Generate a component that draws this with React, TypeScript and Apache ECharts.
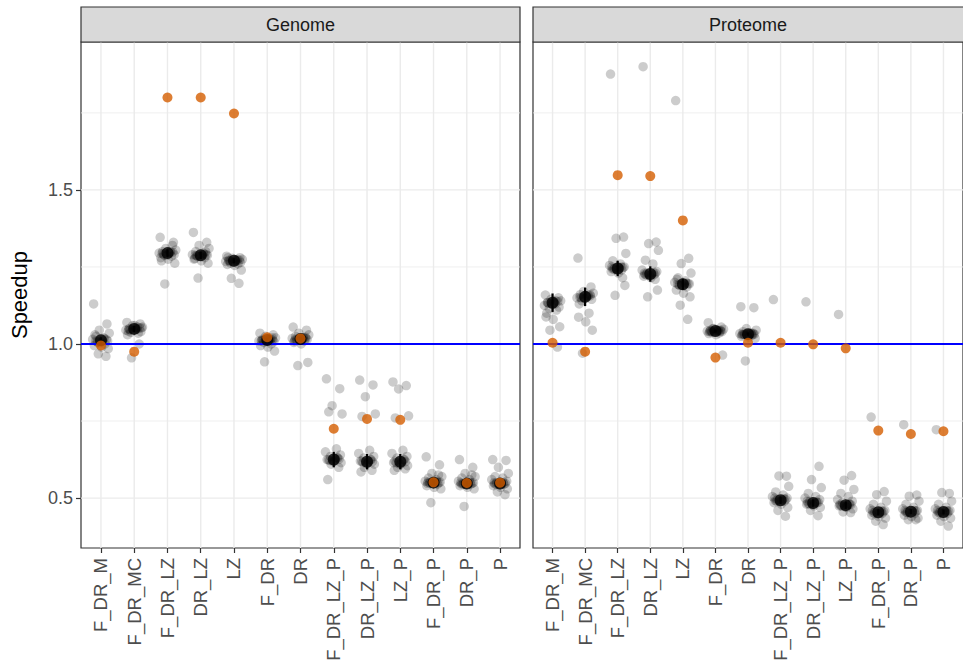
import React, { useEffect, useRef } from "react";
import * as echarts from "echarts";

const CATEGORIES = ["F_DR_M", "F_DR_MC", "F_DR_LZ", "DR_LZ", "LZ", "F_DR", "DR", "F_DR_LZ_P", "DR_LZ_P", "LZ_P", "F_DR_P", "DR_P", "P"];
const PANELS = ["Genome", "Proteome"];
const Y_TICKS = [0.5, 1.0, 1.5];
const Y_MINOR = [0.75, 1.25, 1.75];
const BASELINE = 1.0;

// hand-placed horizontal jitter offsets (category units)
const JITTER = [-0.22, 0.18, -0.05, 0.25, -0.15, 0.08, -0.25, 0.2, -0.1, 0.12, -0.2, 0.02, 0.22, -0.08, 0.15, -0.18, 0.05, -0.12, 0.1, -0.02, 0.16, -0.16];

// Genome
const GENOME_RUNS = [
  [1.13, 1.065, 1.045, 1.035, 1.025, 1.02, 1.015, 1.01, 1.005, 1.0, 0.995, 0.99, 0.985, 0.968, 0.96, 1.03, 1.012, 1.008, 1.018, 1.004, 1.014, 1.01],
  [1.07, 1.065, 1.06, 1.055, 1.05, 1.048, 1.045, 1.04, 1.038, 1.035, 1.03, 1.06, 1.052, 0.955, 1.0, 1.042, 1.05, 1.046, 1.055, 1.044, 1.052, 1.048],
  [1.346, 1.33, 1.31, 1.305, 1.3, 1.298, 1.295, 1.29, 1.288, 1.285, 1.28, 1.275, 1.262, 1.195, 1.32, 1.27, 1.296, 1.292, 1.3, 1.288, 1.298, 1.294],
  [1.362, 1.33, 1.32, 1.31, 1.3, 1.295, 1.29, 1.288, 1.285, 1.28, 1.275, 1.27, 1.262, 1.214, 1.3, 1.278, 1.29, 1.286, 1.292, 1.284, 1.29, 1.288],
  [1.285, 1.28, 1.278, 1.275, 1.272, 1.27, 1.268, 1.265, 1.262, 1.26, 1.258, 1.255, 1.24, 1.213, 1.197, 1.28, 1.271, 1.269, 1.274, 1.266, 1.272, 1.27],
  [1.035, 1.03, 1.025, 1.02, 1.015, 1.012, 1.01, 1.008, 1.005, 1.0, 0.995, 0.99, 0.977, 0.942, 1.02, 1.01, 1.014, 1.012, 1.016, 1.01, 1.013, 1.011],
  [1.055, 1.045, 1.035, 1.03, 1.025, 1.02, 1.018, 1.015, 1.012, 1.01, 1.005, 1.0, 0.94, 0.93, 1.022, 1.01, 1.016, 1.014, 1.02, 1.012, 1.018, 1.015],
  [0.887, 0.855, 0.8, 0.773, 0.78, 0.66, 0.65, 0.64, 0.635, 0.63, 0.625, 0.62, 0.615, 0.61, 0.6, 0.56, 0.628, 0.622, 0.632, 0.618, 0.626, 0.624],
  [0.883, 0.867, 0.829, 0.773, 0.765, 0.655, 0.645, 0.635, 0.63, 0.625, 0.62, 0.615, 0.61, 0.6, 0.59, 0.585, 0.62, 0.615, 0.625, 0.61, 0.618, 0.62],
  [0.877, 0.865, 0.854, 0.767, 0.76, 0.655, 0.645, 0.635, 0.63, 0.625, 0.615, 0.61, 0.605, 0.6, 0.595, 0.59, 0.62, 0.615, 0.625, 0.61, 0.618, 0.62],
  [0.634, 0.608, 0.58, 0.57, 0.565, 0.56, 0.555, 0.552, 0.55, 0.545, 0.54, 0.535, 0.53, 0.485, 0.575, 0.548, 0.551, 0.549, 0.553, 0.547, 0.55, 0.552],
  [0.625, 0.6, 0.58, 0.57, 0.565, 0.56, 0.555, 0.55, 0.547, 0.545, 0.54, 0.535, 0.53, 0.473, 0.575, 0.55, 0.548, 0.546, 0.55, 0.544, 0.548, 0.546],
  [0.625, 0.622, 0.6, 0.58, 0.57, 0.565, 0.56, 0.555, 0.55, 0.545, 0.54, 0.535, 0.53, 0.52, 0.511, 0.55, 0.548, 0.546, 0.55, 0.544, 0.548, 0.546],
];
const GENOME_MEAN = [1.012, 1.049, 1.295, 1.288, 1.27, 1.013, 1.016, 0.625, 0.618, 0.618, 0.55, 0.547, 0.547];
const GENOME_ERR = [0.01, 0.01, 0.012, 0.012, 0.008, 0.006, 0.008, 0.025, 0.025, 0.025, 0.008, 0.008, 0.008];
const GENOME_REF = [0.995, 0.975, 1.8, 1.8, 1.748, 1.022, 1.018, 0.725, 0.757, 0.754, 0.551, 0.549, 0.55];

// Proteome
const PROTEOME_RUNS = [
  [1.159, 1.15, 1.145, 1.14, 1.135, 1.13, 1.125, 1.12, 1.115, 1.11, 1.088, 1.08, 1.056, 1.045, 0.99, 1.1, 1.136, 1.132, 1.14, 1.128, 1.138, 1.134],
  [1.279, 1.185, 1.17, 1.165, 1.16, 1.155, 1.15, 1.145, 1.14, 1.1, 1.087, 1.072, 1.045, 0.97, 1.16, 1.13, 1.155, 1.15, 1.158, 1.148, 1.156, 1.152],
  [1.876, 1.347, 1.343, 1.294, 1.27, 1.26, 1.255, 1.25, 1.245, 1.24, 1.235, 1.23, 1.19, 1.158, 1.215, 1.25, 1.247, 1.243, 1.25, 1.24, 1.248, 1.244],
  [1.9, 1.331, 1.326, 1.304, 1.272, 1.26, 1.24, 1.235, 1.23, 1.225, 1.22, 1.215, 1.175, 1.153, 1.21, 1.23, 1.228, 1.224, 1.232, 1.222, 1.23, 1.226],
  [1.79, 1.278, 1.261, 1.23, 1.215, 1.205, 1.2, 1.195, 1.19, 1.185, 1.175, 1.165, 1.153, 1.126, 1.08, 1.21, 1.196, 1.192, 1.198, 1.19, 1.196, 1.194],
  [1.069, 1.055, 1.05, 1.048, 1.045, 1.043, 1.042, 1.04, 1.038, 1.036, 1.034, 1.03, 0.964, 1.05, 1.045, 1.04, 1.043, 1.041, 1.044, 1.04, 1.042, 1.042],
  [1.121, 1.118, 1.05, 1.045, 1.04, 1.036, 1.034, 1.032, 1.03, 1.028, 1.025, 1.022, 1.018, 0.945, 1.035, 1.03, 1.033, 1.031, 1.034, 1.03, 1.032, 1.032],
  [1.144, 0.571, 0.572, 0.538, 0.52, 0.51, 0.505, 0.5, 0.495, 0.49, 0.485, 0.48, 0.47, 0.46, 0.441, 0.5, 0.494, 0.49, 0.498, 0.488, 0.495, 0.492],
  [1.137, 0.603, 0.56, 0.534, 0.515, 0.505, 0.5, 0.495, 0.49, 0.485, 0.48, 0.475, 0.47, 0.46, 0.443, 0.49, 0.485, 0.481, 0.488, 0.479, 0.486, 0.483],
  [1.096, 0.573, 0.558, 0.528, 0.515, 0.505, 0.495, 0.49, 0.485, 0.48, 0.475, 0.47, 0.465, 0.455, 0.453, 0.48, 0.478, 0.474, 0.481, 0.472, 0.479, 0.476],
  [0.763, 0.521, 0.511, 0.49, 0.48, 0.47, 0.465, 0.46, 0.455, 0.45, 0.445, 0.44, 0.435, 0.425, 0.414, 0.46, 0.455, 0.451, 0.458, 0.449, 0.456, 0.453],
  [0.738, 0.51, 0.506, 0.49, 0.48, 0.47, 0.465, 0.46, 0.455, 0.45, 0.445, 0.44, 0.435, 0.43, 0.43, 0.46, 0.457, 0.453, 0.46, 0.451, 0.458, 0.455],
  [0.722, 0.515, 0.518, 0.49, 0.48, 0.47, 0.465, 0.46, 0.455, 0.45, 0.445, 0.44, 0.435, 0.425, 0.409, 0.46, 0.456, 0.452, 0.459, 0.45, 0.457, 0.454],
];
const PROTEOME_MEAN = [1.134, 1.153, 1.245, 1.227, 1.194, 1.042, 1.032, 0.493, 0.484, 0.477, 0.454, 0.456, 0.455];
const PROTEOME_ERR = [0.03, 0.03, 0.025, 0.025, 0.018, 0.005, 0.005, 0.012, 0.012, 0.012, 0.01, 0.008, 0.008];
const PROTEOME_REF = [1.004, 0.975, 1.548, 1.545, 1.401, 0.956, 1.004, 1.004, 0.999, 0.986, 0.719, 0.708, 0.717];

const FONT = "Liberation Sans, Arial, sans-serif";
const X_MIN = -0.6;
const X_MAX = 12.6;
const Y_MIN = 0.338;
const Y_MAX = 1.98;

const GRIDS = [
  { left: 81, top: 42, width: 439, height: 506 },
  { left: 533, top: 42, width: 440, height: 506 },
];

function buildPanelSeries(p: number, runs: number[][], mean: number[], err: number[], ref: number[]) {
  const ax = { xAxisIndex: p, yAxisIndex: p };
  const idx = CATEGORIES.map((_, i) => i);
  return [
    {
      type: "custom", ...ax, z: 1, silent: true,
      data: idx.map((i) => [i]),
      renderItem: (params: any, api: any) => {
        const i = api.value(0);
        const a = api.coord([i, Y_MIN]);
        const b = api.coord([i, Y_MAX]);
        return { type: "line", shape: { x1: a[0], y1: a[1], x2: b[0], y2: b[1] }, style: { stroke: "#ebebeb", lineWidth: 1.4 } };
      },
    },
    {
      type: "custom", ...ax, z: 1, silent: true,
      data: [...Y_TICKS.map((v) => [v, 1.4]), ...Y_MINOR.map((v) => [v, 0.8])],
      renderItem: (params: any, api: any) => {
        const v = api.value(0);
        const a = api.coord([X_MIN, v]);
        const b = api.coord([X_MAX, v]);
        return { type: "line", shape: { x1: a[0], y1: a[1], x2: b[0], y2: b[1] }, style: { stroke: "#ebebeb", lineWidth: api.value(1) } };
      },
    },
    {
      type: "scatter", ...ax, z: 2, silent: true,
      symbolSize: 9.5,
      itemStyle: { color: "#000000", opacity: 0.2 },
      data: runs.flatMap((vals, i) => vals.map((v, j) => [i + JITTER[j % JITTER.length], v])),
    },
    {
      type: "custom", ...ax, z: 3, silent: true,
      data: [[BASELINE]],
      renderItem: (params: any, api: any) => {
        const v = api.value(0);
        const a = api.coord([X_MIN, v]);
        const b = api.coord([X_MAX, v]);
        return { type: "line", shape: { x1: a[0], y1: a[1], x2: b[0], y2: b[1] }, style: { stroke: "#0000ff", lineWidth: 2 } };
      },
    },
    {
      type: "custom", ...ax, z: 4, silent: true,
      data: mean.map((m, i) => [i, m - err[i], m + err[i]]),
      renderItem: (params: any, api: any) => {
        const i = api.value(0);
        const a = api.coord([i, api.value(1)]);
        const b = api.coord([i, api.value(2)]);
        return { type: "line", shape: { x1: a[0], y1: a[1], x2: b[0], y2: b[1] }, style: { stroke: "#000000", lineWidth: 2.2 } };
      },
    },
    {
      type: "scatter", ...ax, z: 5, silent: true,
      symbolSize: 12,
      itemStyle: { color: "#000000" },
      data: mean.map((m, i) => [i, m]),
    },
    {
      type: "scatter", ...ax, z: 6, silent: true,
      symbolSize: 10,
      itemStyle: { color: "#D55E00" },
      data: ref.map((r, i) => [i, r]),
    },
  ];
}

export default function App() {
  const ref = useRef<HTMLDivElement>(null);
  useEffect(() => {
    if (!ref.current) return;
    const chart = echarts.init(ref.current, undefined, { renderer: "svg" });
    const catIdx = CATEGORIES.map((_, i) => i);
    const xAxes = GRIDS.map((_, p) => ({
      type: "value", gridIndex: p, min: X_MIN, max: X_MAX,
      axisLine: { show: false, onZero: false },
      splitLine: { show: false },
      axisTick: { show: true, customValues: catIdx, length: 5, lineStyle: { color: "#333333", width: 1.2 } },
      axisLabel: {
        customValues: catIdx, rotate: 90, margin: 10, fontSize: 18.5, color: "#4d4d4d", fontFamily: FONT,
        formatter: (v: number) => CATEGORIES[Math.round(v)],
      },
    }));
    const yAxes = GRIDS.map((_, p) => ({
      type: "value", gridIndex: p, min: Y_MIN, max: Y_MAX,
      axisLine: { show: false, onZero: false },
      splitLine: { show: false },
      axisTick: { show: p === 0, customValues: Y_TICKS, length: 5, lineStyle: { color: "#333333", width: 1.2 } },
      axisLabel: {
        show: p === 0, customValues: Y_TICKS, margin: 8, fontSize: 18, color: "#4d4d4d", fontFamily: FONT,
        formatter: (v: number) => v.toFixed(1),
      },
    }));
    const graphics: any[] = [];
    GRIDS.forEach((g, p) => {
      graphics.push({
        type: "rect", shape: { x: g.left, y: 7, width: g.width, height: 35 },
        style: { fill: "#d9d9d9", stroke: "#333333", lineWidth: 1.2 }, z: 10,
      });
      graphics.push({
        type: "text", x: g.left + g.width / 2 - (p === 1 ? 5 : 0), y: 25, z: 11,
        style: { text: PANELS[p], fontSize: 18, fill: "#1a1a1a", fontFamily: FONT, align: "center", verticalAlign: "middle" },
      });
    });
    graphics.push({
      type: "text", x: 19, y: 295, rotation: Math.PI / 2, z: 11,
      style: { text: "Speedup", fontSize: 22, fill: "#000000", fontFamily: FONT, align: "center", verticalAlign: "middle" },
    });
    chart.setOption({
      animation: false,
      backgroundColor: "#ffffff",
      textStyle: { fontFamily: FONT },
      grid: GRIDS.map((g) => ({ ...g, show: true, backgroundColor: "#ffffff", borderColor: "#333333", borderWidth: 1.2, containLabel: false })),
      xAxis: xAxes,
      yAxis: yAxes,
      graphic: graphics,
      series: [
        ...buildPanelSeries(0, GENOME_RUNS, GENOME_MEAN, GENOME_ERR, GENOME_REF),
        ...buildPanelSeries(1, PROTEOME_RUNS, PROTEOME_MEAN, PROTEOME_ERR, PROTEOME_REF),
      ],
    });
    return () => chart.dispose();
  }, []);
  return <div ref={ref} style={{ position: "fixed", left: 0, top: 0, width: 963, height: 669 }} />;
}
